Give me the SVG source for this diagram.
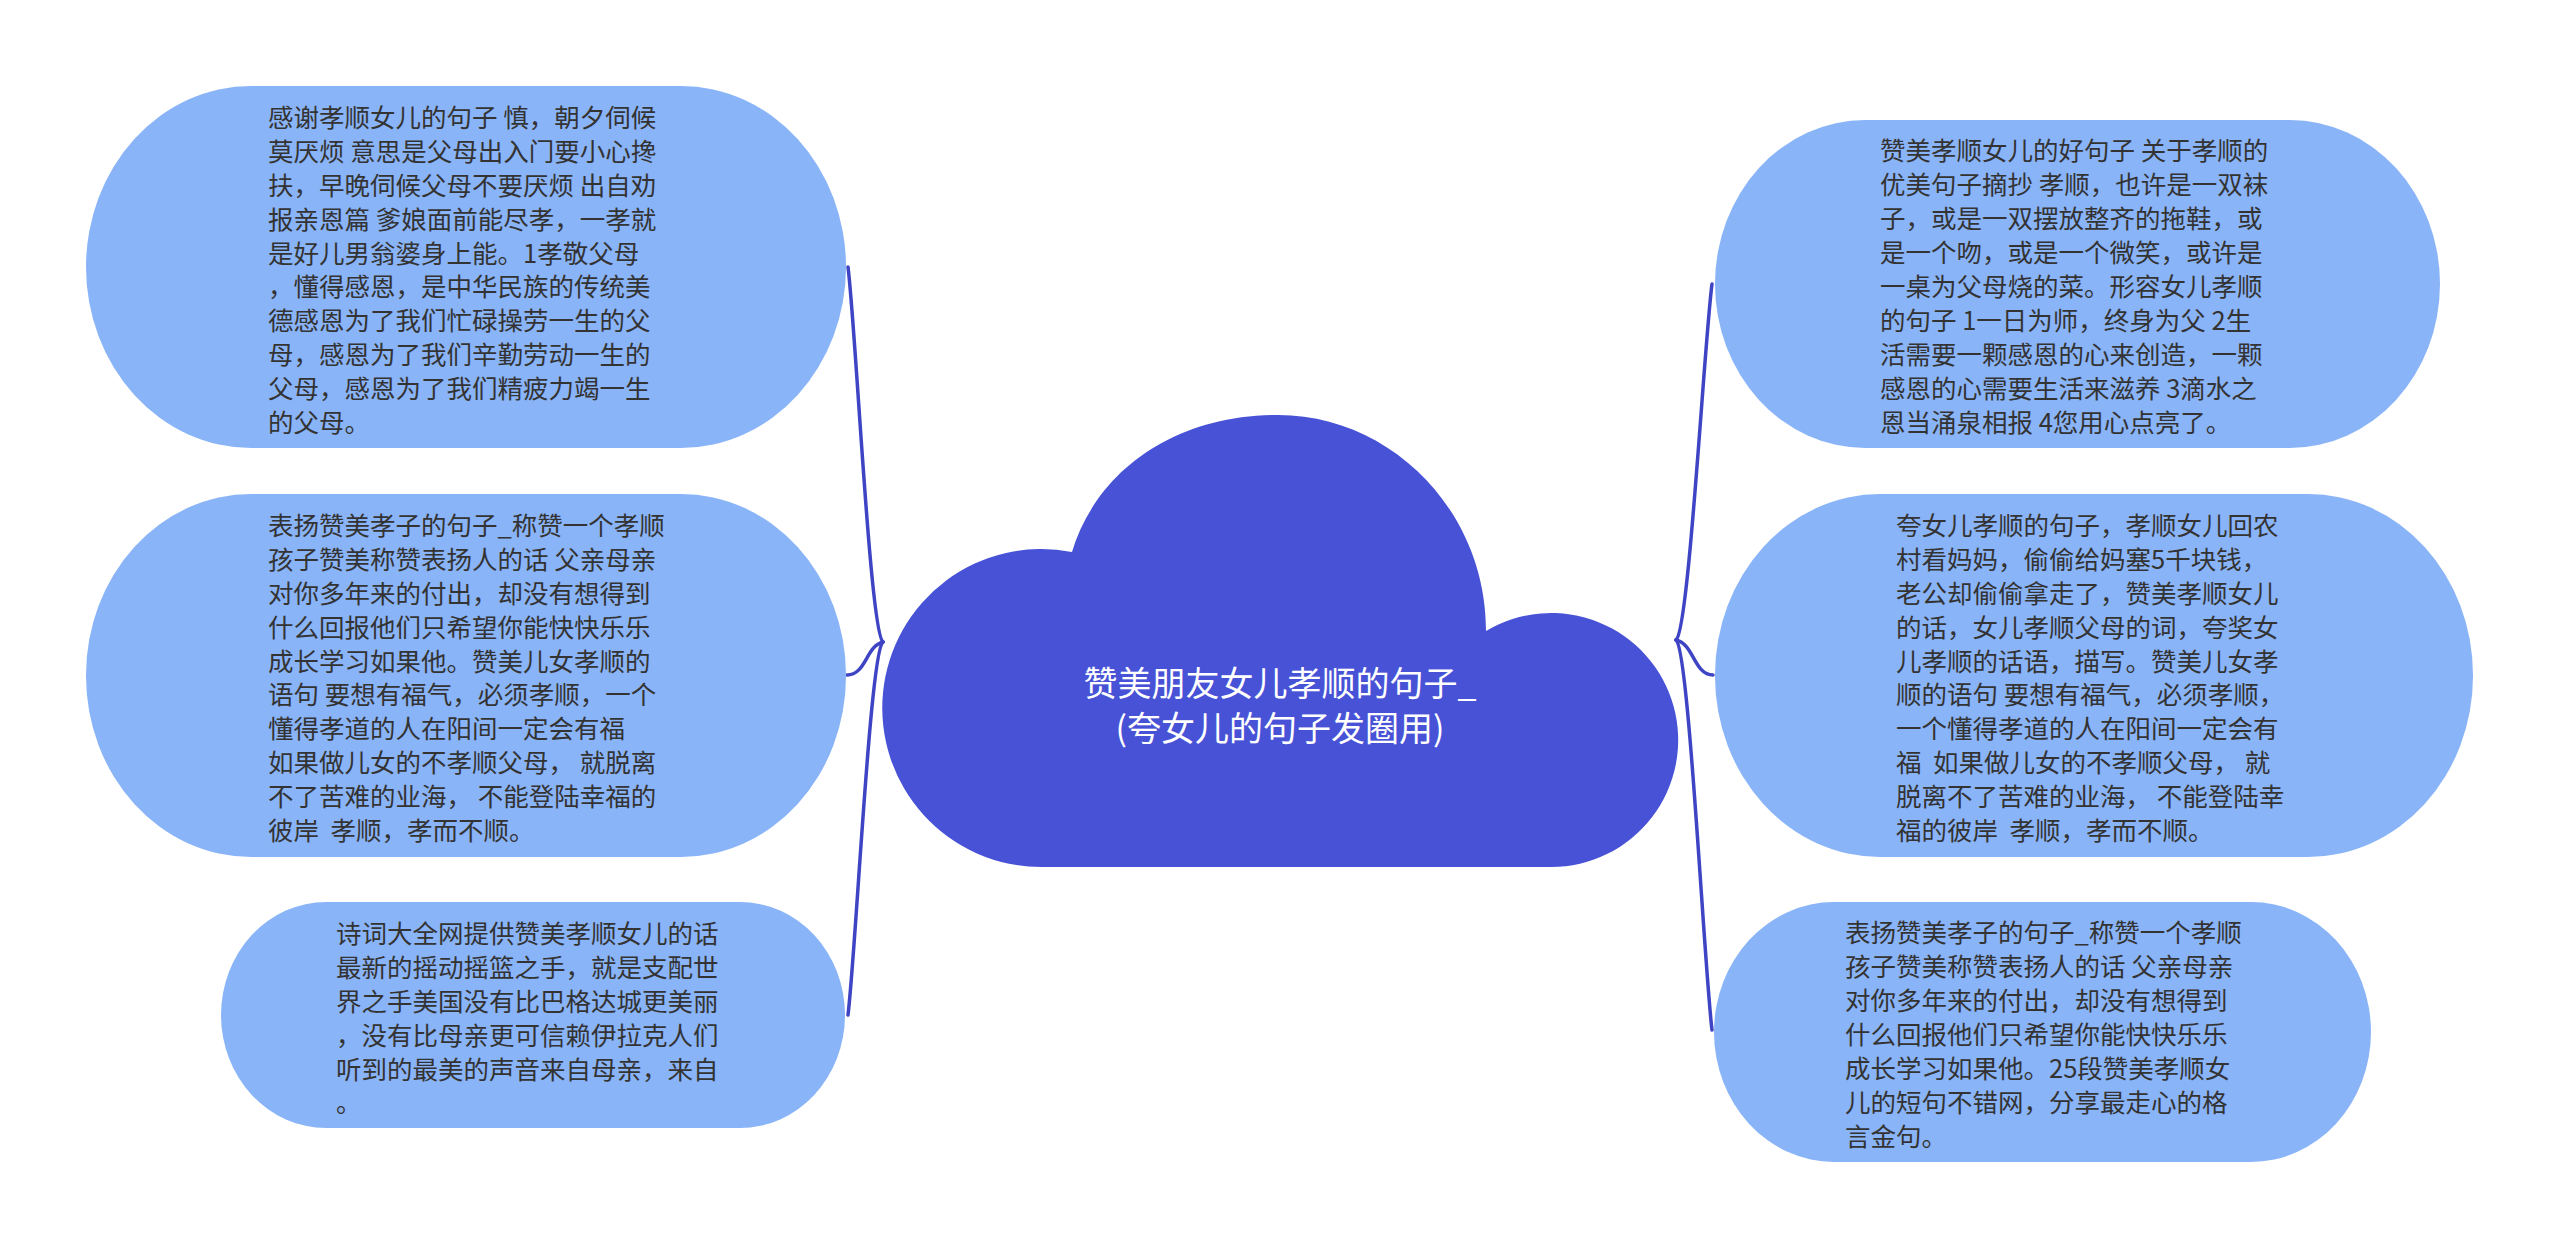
<svg xmlns="http://www.w3.org/2000/svg" width="2560" height="1249" viewBox="0 0 2560 1249">
<style>
.bg{fill:#ffffff}
.node{fill:#8AB4F8}
.cloud{fill:#4752D6}
.t{font-family:"Noto Sans CJK SC","Noto Sans",sans-serif;font-size:25.5px;fill:#333333;white-space:pre}
.ct{font-family:"Noto Sans CJK SC","Noto Sans",sans-serif;font-size:34px;fill:#ffffff;text-anchor:middle}
.conn{fill:none;stroke:#3E44C4;stroke-width:3.5;stroke-linecap:round}
</style>
<rect class="bg" x="0" y="0" width="2560" height="1249"/>
<g id="connectors">
<path class="conn" d="M 883 642 C 870 632 856 330 848 267"/>
<path class="conn" d="M 883 642 C 866 646 866 675 847 675"/>
<path class="conn" d="M 883 642 C 870 652 856 950 848 1015"/>
<path class="conn" d="M 1676 640 C 1689 630 1704 345 1712 284"/>
<path class="conn" d="M 1676 640 C 1694 644 1694 675 1713 675"/>
<path class="conn" d="M 1676 640 C 1689 650 1704 965 1712 1030"/>
</g>
<g id="center">
<path class="cloud" d="M 1042 867 L 1551 867 A 127 127 0 1 0 1486 631 C 1486 510 1390 415 1278 415 C 1170 415 1095 475 1072 552 A 159 159 0 1 0 1042 867 Z"/>
<text class="ct" x="1280" y="696">赞美朋友女儿孝顺的句子_</text>
<text class="ct" x="1280" y="741">(夸女儿的句子发圈用)</text>
</g>
<g id="node-l1">
<rect class="node" x="86" y="86" width="760" height="362" rx="165" ry="181"/>
<text class="t" x="268" y="127">感谢孝顺女儿的句子 慎，朝夕伺候</text>
<text class="t" x="268" y="161">莫厌烦 意思是父母出入门要小心搀</text>
<text class="t" x="268" y="195">扶，早晚伺候父母不要厌烦 出自劝</text>
<text class="t" x="268" y="229">报亲恩篇 爹娘面前能尽孝，一孝就</text>
<text class="t" x="268" y="263">是好儿男翁婆身上能。1孝敬父母</text>
<text class="t" x="268" y="296">，懂得感恩，是中华民族的传统美</text>
<text class="t" x="268" y="330">德感恩为了我们忙碌操劳一生的父</text>
<text class="t" x="268" y="364">母，感恩为了我们辛勤劳动一生的</text>
<text class="t" x="268" y="398">父母，感恩为了我们精疲力竭一生</text>
<text class="t" x="268" y="432">的父母。</text>
</g>
<g id="node-l2">
<rect class="node" x="86" y="494" width="760" height="363" rx="165" ry="181"/>
<text class="t" x="268" y="535">表扬赞美孝子的句子_称赞一个孝顺</text>
<text class="t" x="268" y="569">孩子赞美称赞表扬人的话 父亲母亲</text>
<text class="t" x="268" y="603">对你多年来的付出，却没有想得到</text>
<text class="t" x="268" y="637">什么回报他们只希望你能快快乐乐</text>
<text class="t" x="268" y="671">成长学习如果他。赞美儿女孝顺的</text>
<text class="t" x="268" y="704">语句 要想有福气，必须孝顺，一个</text>
<text class="t" x="268" y="738">懂得孝道的人在阳间一定会有福</text>
<text class="t" x="268" y="772">如果做儿女的不孝顺父母， 就脱离</text>
<text class="t" x="268" y="806">不了苦难的业海， 不能登陆幸福的</text>
<text class="t" x="268" y="840">彼岸  孝顺，孝而不顺。</text>
</g>
<g id="node-l3">
<rect class="node" x="221" y="902" width="624" height="226" rx="105" ry="113"/>
<text class="t" x="336" y="943">诗词大全网提供赞美孝顺女儿的话</text>
<text class="t" x="336" y="977">最新的摇动摇篮之手，就是支配世</text>
<text class="t" x="336" y="1011">界之手美国没有比巴格达城更美丽</text>
<text class="t" x="336" y="1045">，没有比母亲更可信赖伊拉克人们</text>
<text class="t" x="336" y="1079">听到的最美的声音来自母亲，来自</text>
<text class="t" x="336" y="1112">。</text>
</g>
<g id="node-r1">
<rect class="node" x="1715" y="120" width="725" height="328" rx="150" ry="164"/>
<text class="t" x="1880" y="160">赞美孝顺女儿的好句子 关于孝顺的</text>
<text class="t" x="1880" y="194">优美句子摘抄 孝顺，也许是一双袜</text>
<text class="t" x="1880" y="228">子，或是一双摆放整齐的拖鞋，或</text>
<text class="t" x="1880" y="262">是一个吻，或是一个微笑，或许是</text>
<text class="t" x="1880" y="296">一桌为父母烧的菜。形容女儿孝顺</text>
<text class="t" x="1880" y="330">的句子 1一日为师，终身为父 2生</text>
<text class="t" x="1880" y="364">活需要一颗感恩的心来创造，一颗</text>
<text class="t" x="1880" y="398">感恩的心需要生活来滋养 3滴水之</text>
<text class="t" x="1880" y="432">恩当涌泉相报 4您用心点亮了。</text>
</g>
<g id="node-r2">
<rect class="node" x="1715" y="494" width="758" height="363" rx="165" ry="181"/>
<text class="t" x="1896" y="535">夸女儿孝顺的句子，孝顺女儿回农</text>
<text class="t" x="1896" y="569">村看妈妈，偷偷给妈塞5千块钱，</text>
<text class="t" x="1896" y="603">老公却偷偷拿走了，赞美孝顺女儿</text>
<text class="t" x="1896" y="637">的话，女儿孝顺父母的词，夸奖女</text>
<text class="t" x="1896" y="671">儿孝顺的话语，描写。赞美儿女孝</text>
<text class="t" x="1896" y="704">顺的语句 要想有福气，必须孝顺，</text>
<text class="t" x="1896" y="738">一个懂得孝道的人在阳间一定会有</text>
<text class="t" x="1896" y="772">福  如果做儿女的不孝顺父母， 就</text>
<text class="t" x="1896" y="806">脱离不了苦难的业海， 不能登陆幸</text>
<text class="t" x="1896" y="840">福的彼岸  孝顺，孝而不顺。</text>
</g>
<g id="node-r3">
<rect class="node" x="1714" y="902" width="657" height="260" rx="120" ry="130"/>
<text class="t" x="1845" y="942">表扬赞美孝子的句子_称赞一个孝顺</text>
<text class="t" x="1845" y="976">孩子赞美称赞表扬人的话 父亲母亲</text>
<text class="t" x="1845" y="1010">对你多年来的付出，却没有想得到</text>
<text class="t" x="1845" y="1044">什么回报他们只希望你能快快乐乐</text>
<text class="t" x="1845" y="1078">成长学习如果他。25段赞美孝顺女</text>
<text class="t" x="1845" y="1112">儿的短句不错网，分享最走心的格</text>
<text class="t" x="1845" y="1146">言金句。</text>
</g>
</svg>
